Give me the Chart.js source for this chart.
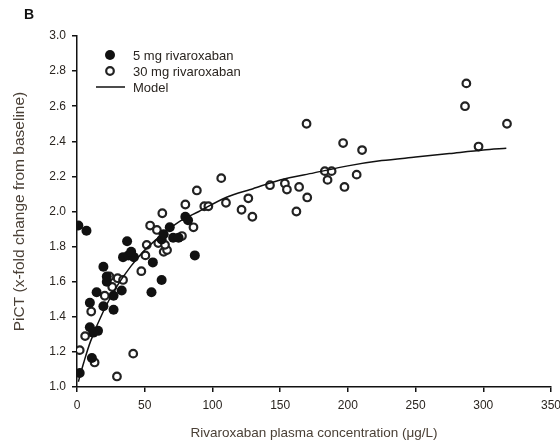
<!DOCTYPE html>
<html>
<head>
<meta charset="utf-8">
<script src="https://cdn.jsdelivr.net/npm/chart.js@4.4.1/dist/chart.umd.min.js"></script>
<style>
  html, body { margin: 0; padding: 0; background: #fff; }
  #wrap { width: 560px; height: 448px; position: relative; }
</style>
</head>
<body>
<div id="wrap"><canvas id="pictChart"></canvas></div>
<script>
// --- Data ---
const fiveMgX = [1, 7, 2, 11, 9.5, 15.5, 12, 9.5, 19.5, 27, 14.5, 27, 33, 22, 22, 19.5, 37, 34, 38, 42, 40, 56, 62.5, 55, 62.5, 64, 71, 75, 68.5, 80, 82, 87];
const fiveMgY = [1.92, 1.89, 1.08, 1.165, 1.34, 1.32, 1.31, 1.48, 1.46, 1.44, 1.54, 1.52, 1.55, 1.60, 1.63, 1.685, 1.83, 1.74, 1.75, 1.74, 1.77, 1.71, 1.61, 1.54, 1.84, 1.87, 1.85, 1.85, 1.91, 1.97, 1.95, 1.75];

const thirtyMgX = [2, 6, 13, 10.5, 20.5, 24, 26, 30, 34, 29.5, 41.5, 47.5, 50.5, 51.5, 54, 59, 60, 63, 64, 66.5, 65, 77.5, 86, 80, 88.5, 94, 97, 106.5, 110, 121.5, 126.5, 129.5, 142.5, 153.5, 155, 162, 164, 170, 169.5, 183, 188, 185, 196.5, 197.5, 206.5, 210.5, 287.5, 286.5, 296.5, 317.5];
const thirtyMgY = [1.21, 1.29, 1.14, 1.43, 1.52, 1.63, 1.57, 1.62, 1.61, 1.06, 1.19, 1.66, 1.75, 1.81, 1.92, 1.895, 1.82, 1.99, 1.77, 1.78, 1.81, 1.86, 1.91, 2.04, 2.12, 2.03, 2.03, 2.19, 2.05, 2.01, 2.075, 1.97, 2.15, 2.16, 2.125, 2.00, 2.14, 2.08, 2.50, 2.23, 2.23, 2.18, 2.39, 2.14, 2.21, 2.35, 2.73, 2.60, 2.37, 2.50];

const modelX = [1, 5, 10, 20, 30, 40, 50, 60, 75, 90, 110, 130, 150, 175, 200, 225, 250, 275, 300, 317];
const modelY = [1.03, 1.14, 1.26, 1.44, 1.58, 1.69, 1.78, 1.85, 1.94, 2.00, 2.08, 2.13, 2.18, 2.22, 2.26, 2.29, 2.31, 2.33, 2.35, 2.36];

const xTicks = [0, 50, 100, 150, 200, 250, 300, 350];
const yTicks = [1.0, 1.2, 1.4, 1.6, 1.8, 2.0, 2.2, 2.4, 2.6, 2.8, 3.0];

const seriesNames = ['5 mg rivaroxaban', '30 mg rivaroxaban', 'Model'];

function toPoints(xs, ys) {
    return xs.map((x, i) => ({ x: x, y: ys[i] }));
}

const FONT = "'Liberation Sans', Arial, sans-serif";

// panel letter + legend drawn inside the plot
const extrasPlugin = {
    id: 'extras',
    afterDraw(chart) {
        const ctx = chart.ctx;
        ctx.save();
        ctx.fillStyle = '#111';
        ctx.font = 'bold 14px ' + FONT;
        ctx.textBaseline = 'middle';
        ctx.fillText('B', 24, 15);

        const mx = 110, tx = 133;
        const rows = [55, 71, 87];
        // filled marker
        ctx.beginPath();
        ctx.arc(mx, rows[0], 5, 0, Math.PI * 2);
        ctx.fillStyle = '#111';
        ctx.fill();
        // open marker
        ctx.beginPath();
        ctx.arc(mx, rows[1], 3.8, 0, Math.PI * 2);
        ctx.fillStyle = '#fff';
        ctx.fill();
        ctx.lineWidth = 2.2;
        ctx.strokeStyle = '#222';
        ctx.stroke();
        // model line
        ctx.beginPath();
        ctx.moveTo(96, rows[2]);
        ctx.lineTo(125, rows[2]);
        ctx.lineWidth = 1.5;
        ctx.strokeStyle = '#111';
        ctx.stroke();

        ctx.font = '13px ' + FONT;
        ctx.fillStyle = '#2a2520';
        seriesNames.forEach((name, i) => ctx.fillText(name, tx, rows[i] + 1));
        ctx.restore();
    }
};

const ctx = document.getElementById('pictChart').getContext('2d');
new Chart(ctx, {
    type: 'scatter',
    data: {
        datasets: [
            {
                label: seriesNames[0],
                data: toPoints(fiveMgX, fiveMgY),
                pointRadius: 5,
                pointBackgroundColor: '#111',
                pointBorderColor: '#111',
                pointBorderWidth: 0,
                order: 2
            },
            {
                label: seriesNames[1],
                data: toPoints(thirtyMgX, thirtyMgY),
                pointRadius: 3.8,
                pointBackgroundColor: '#fff',
                pointBorderColor: '#222',
                pointBorderWidth: 2.2,
                order: 3
            },
            {
                label: seriesNames[2],
                data: toPoints(modelX, modelY),
                showLine: true,
                borderColor: '#111',
                borderWidth: 1.5,
                pointRadius: 0,
                tension: 0.3,
                order: 1
            }
        ]
    },
    options: {
        responsive: true,
        maintainAspectRatio: false,
        animation: false,
        layout: { padding: { top: 36, right: 9, left: 0, bottom: 0 } },
        plugins: {
            legend: { display: false },
            tooltip: { enabled: false }
        },
        scales: {
            x: {
                type: 'linear',
                min: 0,
                max: 350,
                afterBuildTicks: (scale) => { scale.ticks = xTicks.map(v => ({ value: v })); },
                afterFit: (scale) => { scale.height = 61; scale.paddingRight = 0; scale.paddingLeft = 0; },
                grid: { display: true, drawOnChartArea: false, drawTicks: true, tickLength: 5, color: '#111', lineWidth: 1.5 },
                border: { display: true, color: '#111', width: 1.5 },
                ticks: { color: '#2a2520', font: { family: FONT, size: 12 }, padding: 6, maxRotation: 0 },
                title: {
                    display: true,
                    text: 'Rivaroxaban plasma concentration (μg/L)',
                    color: '#4a4036',
                    font: { family: FONT, size: 13.5 },
                    padding: { top: 0, bottom: 7 }
                }
            },
            y: {
                type: 'linear',
                min: 1.0,
                max: 3.0,
                afterBuildTicks: (scale) => { scale.ticks = yTicks.map(v => ({ value: v })); },
                afterFit: (scale) => { scale.width = 77; scale.paddingTop = 0; scale.paddingBottom = 0; },
                grid: { display: true, drawOnChartArea: false, drawTicks: true, tickLength: 5, color: '#111', lineWidth: 1.5 },
                border: { display: true, color: '#111', width: 1.5 },
                ticks: {
                    color: '#2a2520',
                    font: { family: FONT, size: 12 },
                    padding: 6,
                    callback: (v) => Number(v).toFixed(1)
                },
                title: {
                    display: true,
                    text: 'PiCT (x-fold change from baseline)',
                    color: '#4a4036',
                    font: { family: FONT, size: 15.5 },
                    padding: { top: 10, bottom: 0 }
                }
            }
        }
    },
    plugins: [extrasPlugin]
});
</script>
</body>
</html>
